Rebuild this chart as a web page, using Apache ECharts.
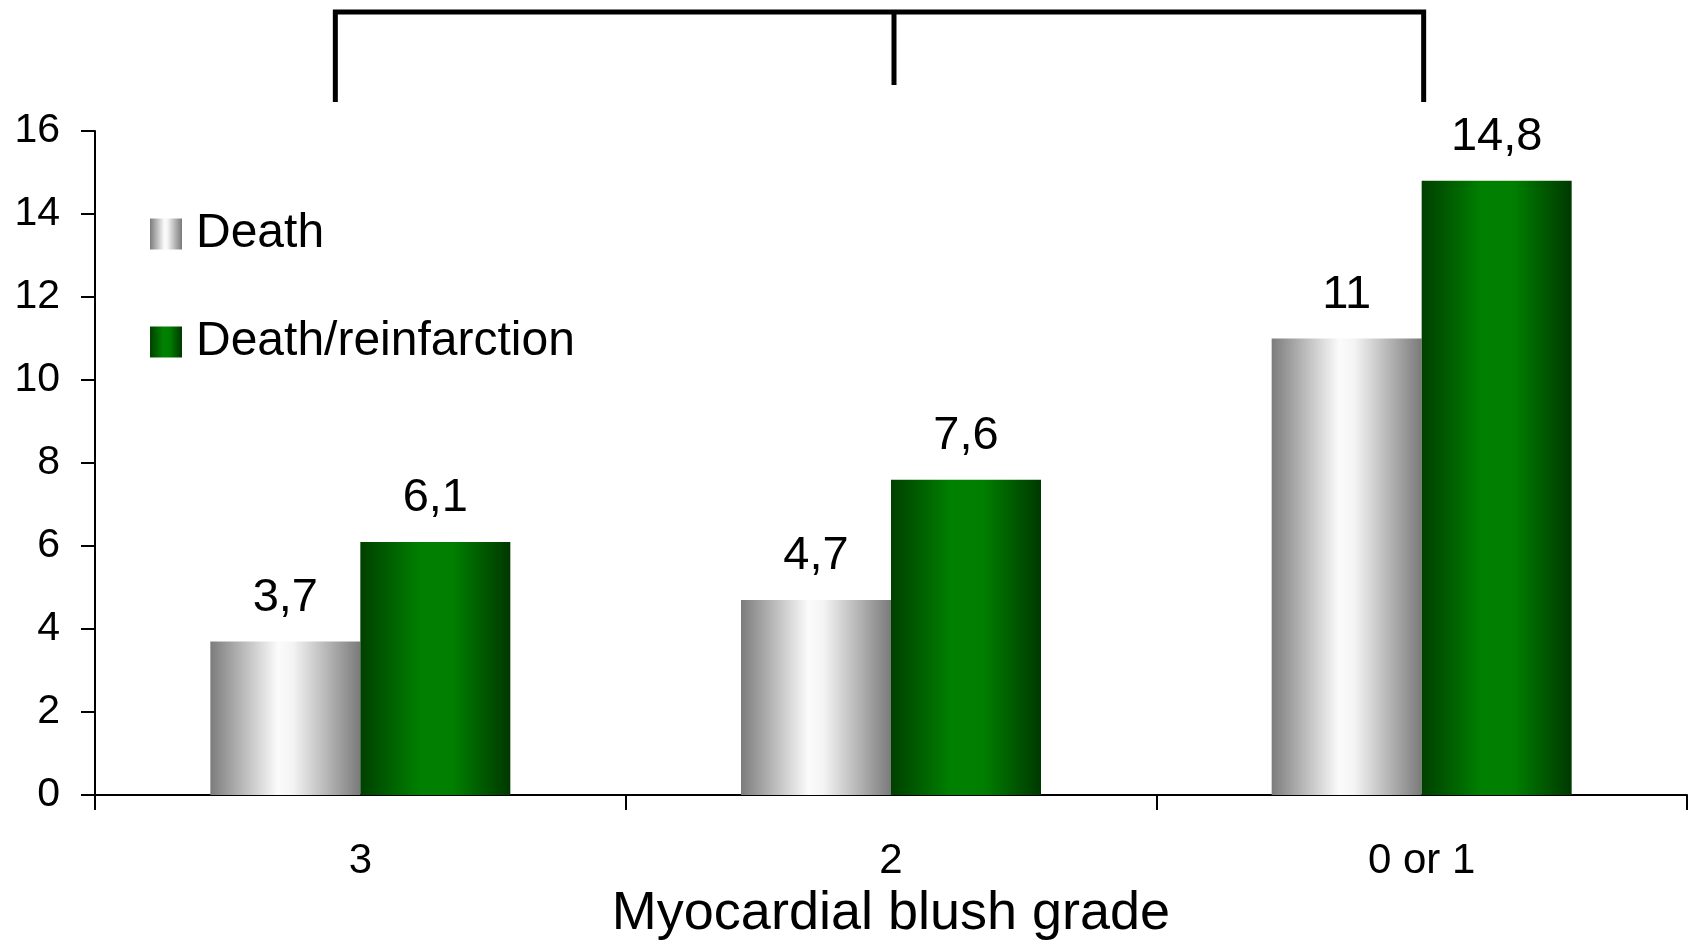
<!DOCTYPE html>
<html>
<head>
<meta charset="utf-8">
<script src="https://cdn.jsdelivr.net/npm/echarts@6/dist/echarts.min.js"></script>
<style>
html,body{margin:0;padding:0;background:#fff;}
#chart{width:1692px;height:946px;}
</style>
</head>
<body>
<div id="chart"></div>
<script>
const categories = ['3', '2', '0 or 1'];
const deathValues = [3.7, 4.7, 11];
const deathReinfValues = [6.1, 7.6, 14.8];
const seriesNames = ['Death', 'Death/reinfarction'];
const xAxisTitle = 'Myocardial blush grade';

const FONT = '"Liberation Sans", Arial, sans-serif';

const grayGrad = new echarts.graphic.LinearGradient(0, 0, 1, 0, [
  {offset: 0, color: '#7c7c7c'},
  {offset: 0.45, color: '#fbfbfb'},
  {offset: 0.55, color: '#f4f4f4'},
  {offset: 1, color: '#7a7a7a'}
]);
const greenGrad = new echarts.graphic.LinearGradient(0, 0, 1, 0, [
  {offset: 0, color: '#004000'},
  {offset: 0.4, color: '#008000'},
  {offset: 0.62, color: '#007e00'},
  {offset: 1, color: '#003800'}
]);

const fmt = p => String(p.value).replace('.', ',');

const chart = echarts.init(document.getElementById('chart'), null, {renderer: 'canvas'});
chart.setOption({
  animation: false,
  backgroundColor: '#ffffff',
  textStyle: {fontFamily: FONT, color: '#000'},
  grid: {left: 95, right: 5, top: 131, bottom: 144, containLabel: false},
  legend: {
    orient: 'vertical',
    left: 150,
    top: 210,
    padding: 0,
    itemWidth: 32,
    itemHeight: 31,
    itemGap: 60,
    icon: 'rect',
    textStyle: {fontFamily: FONT, fontSize: 48, color: '#000', padding: [0, 0, 0, 9]},
    data: seriesNames
  },
  xAxis: {
    type: 'category',
    data: categories,
    name: xAxisTitle,
    nameLocation: 'middle',
    nameGap: 87,
    nameTextStyle: {fontFamily: FONT, fontSize: 54, color: '#000'},
    axisLine: {lineStyle: {color: '#000', width: 2}},
    axisTick: {show: true, length: 15, lineStyle: {color: '#000', width: 2}},
    axisLabel: {fontFamily: FONT, fontSize: 42, color: '#000', margin: 45},
    splitLine: {show: false}
  },
  yAxis: {
    type: 'value',
    min: 0,
    max: 16,
    interval: 2,
    axisLine: {show: true, lineStyle: {color: '#000', width: 2}},
    axisTick: {show: true, length: 14, lineStyle: {color: '#000', width: 2}},
    axisLabel: {fontFamily: FONT, fontSize: 41, color: '#000', margin: 35},
    splitLine: {show: false}
  },
  series: [
    {
      name: seriesNames[0],
      type: 'bar',
      data: deathValues,
      barWidth: 150,
      barGap: '0%',
      itemStyle: {color: grayGrad},
      label: {show: true, position: 'top', distance: 20, formatter: fmt,
               fontFamily: FONT, fontSize: 47, color: '#000'}
    },
    {
      name: seriesNames[1],
      type: 'bar',
      data: deathReinfValues,
      barWidth: 150,
      barGap: '0%',
      itemStyle: {color: greenGrad},
      label: {show: true, position: 'top', distance: 20, formatter: fmt,
               fontFamily: FONT, fontSize: 47, color: '#000'}
    }
  ]
});

// significance bracket above the groups, anchored to category positions
const cx = categories.map(c => chart.convertToPixel({xAxisIndex: 0}, c));
const xl = cx[0] - 25, xm = cx[1] + 3, xr = cx[2] + 2;
const yTop = 12;
chart.setOption({
  graphic: [
    {type: 'polyline', shape: {points: [[xl, 102], [xl, yTop], [xr, yTop], [xr, 102]]},
     style: {stroke: '#000', lineWidth: 5, fill: null, lineJoin: 'miter'}},
    {type: 'line', shape: {x1: xm, y1: yTop, x2: xm, y2: 85},
     style: {stroke: '#000', lineWidth: 5}}
  ]
});
</script>
</body>
</html>
